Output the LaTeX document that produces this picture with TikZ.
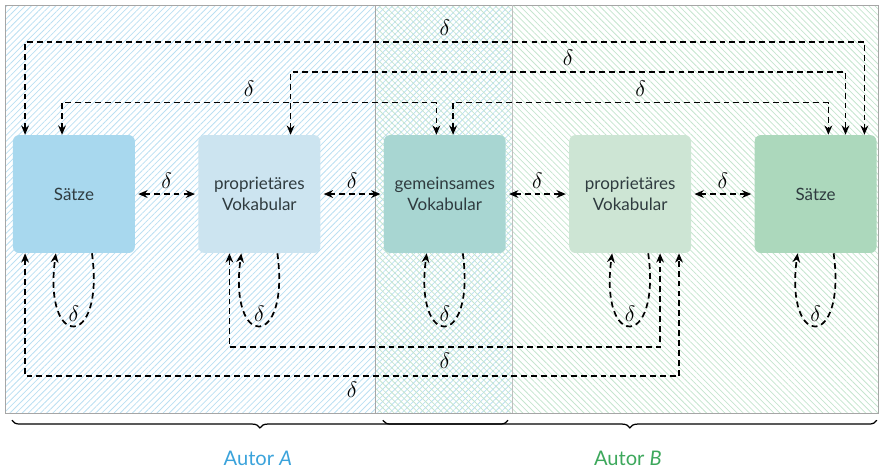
\documentclass[tikz,border=0pt]{standalone}
\usepackage{fontspec}
\setmainfont{Lato}
\usetikzlibrary{arrows.meta,patterns.meta,decorations.pathreplacing,positioning}

\definecolor{satzA}{HTML}{A8D8EE}
\definecolor{vokA}{HTML}{CCE4F0}
\definecolor{gemein}{HTML}{A8D6D2}
\definecolor{vokB}{HTML}{CDE5D4}
\definecolor{satzB}{HTML}{ACD8BC}
\definecolor{autorA}{HTML}{3BA3DB}
\definecolor{autorB}{HTML}{3DA85C}
\definecolor{textgray}{HTML}{2F3B3F}

\tikzset{
    box/.style={rectangle, rounded corners=4pt, minimum width=2.77cm, minimum height=2.68cm,
        align=center, text=textgray, font=\fontsize{11}{13.5}\selectfont},
    flow/.style={line width=1.1pt, dash pattern=on 3.8pt off 2.6pt, >={Stealth[length=6pt,width=5pt]}},
    dlt/.style={font=\fontsize{14}{16}\selectfont},
    autor/.style={font=\fontsize{13}{15}\selectfont}
}

\begin{document}
\begin{tikzpicture}
    \useasboundingbox (0,0) rectangle (20,-10.727);

    % hatched areas of the two authors
    \pattern[pattern={Lines[angle=45,distance=2.8pt,line width=0.5pt]}, pattern color=autorA!35]
        (0.114,-0.114) rectangle (11.636,-9.386);
    \pattern[pattern={Lines[angle=-45,distance=2.8pt,line width=0.5pt]}, pattern color=autorB!30]
        (8.52,-0.114) rectangle (19.95,-9.386);
    \draw[gray!70] (0.114,-0.114) rectangle (19.95,-9.386);
    \draw[gray!70] (8.52,-0.114) -- (8.52,-9.386);
    \draw[gray!50] (11.636,-0.114) -- (11.636,-9.386);

    % the five boxes
    \node[box, fill=satzA] (satzA) at (1.68,-4.41) {Sätze};
    \node[box, fill=vokA, right=1.43cm of satzA] (vokA) {proprietäres\\Vokabular};
    \node[box, fill=gemein, right=1.43cm of vokA] (gemein) {gemeinsames\\Vokabular};
    \node[box, fill=vokB, right=1.43cm of gemein] (vokB) {proprietäres\\Vokabular};
    \node[box, fill=satzB, right=1.43cm of vokB] (satzB) {Sätze};

    % neighbours
    \draw[flow, <->, shorten <=2pt, shorten >=2pt] (satzA) -- (vokA) node[dlt, midway, above] (d12) {$\delta$};
    \draw[flow, <->, shorten <=2pt, shorten >=2pt] (vokA) -- (gemein) node[dlt, midway, above] (d23) {$\delta$};
    \draw[flow, <->, shorten <=2pt, shorten >=2pt] (gemein) -- (vokB) node[dlt, midway, above] (d34) {$\delta$};
    \draw[flow, <->, shorten <=2pt, shorten >=2pt] (vokB) -- (satzB) node[dlt, midway, above] (d45) {$\delta$};

    % connections above
    \draw[flow, <->] ([xshift=-1.11cm]satzA.north) -- ++(0,2.115) -| ([xshift=1.11cm]satzB.north)
        node[dlt, pos=0.25, above] (dtop1) {$\delta$};
    \draw[flow, <->] ([xshift=0.71cm]vokA.north) -- ++(0,1.434) -| ([xshift=0.68cm]satzB.north)
        node[dlt, pos=0.25, above] (dtop2) {$\delta$};
    \draw[flow, <->] ([xshift=-0.27cm]satzA.north) -- ++(0,0.73) -| ([xshift=-0.19cm]gemein.north)
        node[dlt, pos=0.25, above] (dtop3) {$\delta$};
    \draw[flow, <->] ([xshift=0.19cm]gemein.north) -- ++(0,0.73) -| ([xshift=0.29cm]satzB.north)
        node[dlt, pos=0.25, above] (dtop4) {$\delta$};

    % connections below
    \draw[flow, <->] ([xshift=-0.68cm]vokA.south) -- ++(0,-2.136) -| ([xshift=0.68cm]vokB.south)
        node[dlt, pos=0.25, below] (dbot1) {$\delta$};
    \draw[flow, <->] ([xshift=-1.11cm]satzA.south) -- ++(0,-2.795) -| ([xshift=1.11cm]vokB.south)
        node[dlt, pos=0.25, below] (dbot2) {$\delta$};

    % loops
    \foreach \n in {satzA, vokA, gemein, vokB, satzB} {
        \draw[flow, ->] ([xshift=0.41cm]\n.south) .. controls +(0.3,-2.2) and +(-0.3,-2.2)
            .. ([xshift=-0.41cm]\n.south) node[dlt, pos=0.5, above, inner sep=2pt] (loop\n) {$\delta$};
    }

    % braces and authors
    \draw[decorate, decoration={brace, mirror, amplitude=5pt}, thick] (0.27,-9.55) -- (11.545,-9.55);
    \draw[decorate, decoration={brace, mirror, amplitude=5pt}, thick] (8.7,-9.55) -- (19.93,-9.55);
    \node[autor, text=autorA] (autorA) at (5.86,-10.41) {Autor \textit{A}};
    \node[autor, text=autorB] (autorB) at (14.27,-10.41) {Autor \textit{B}};
\end{tikzpicture}
\end{document}
